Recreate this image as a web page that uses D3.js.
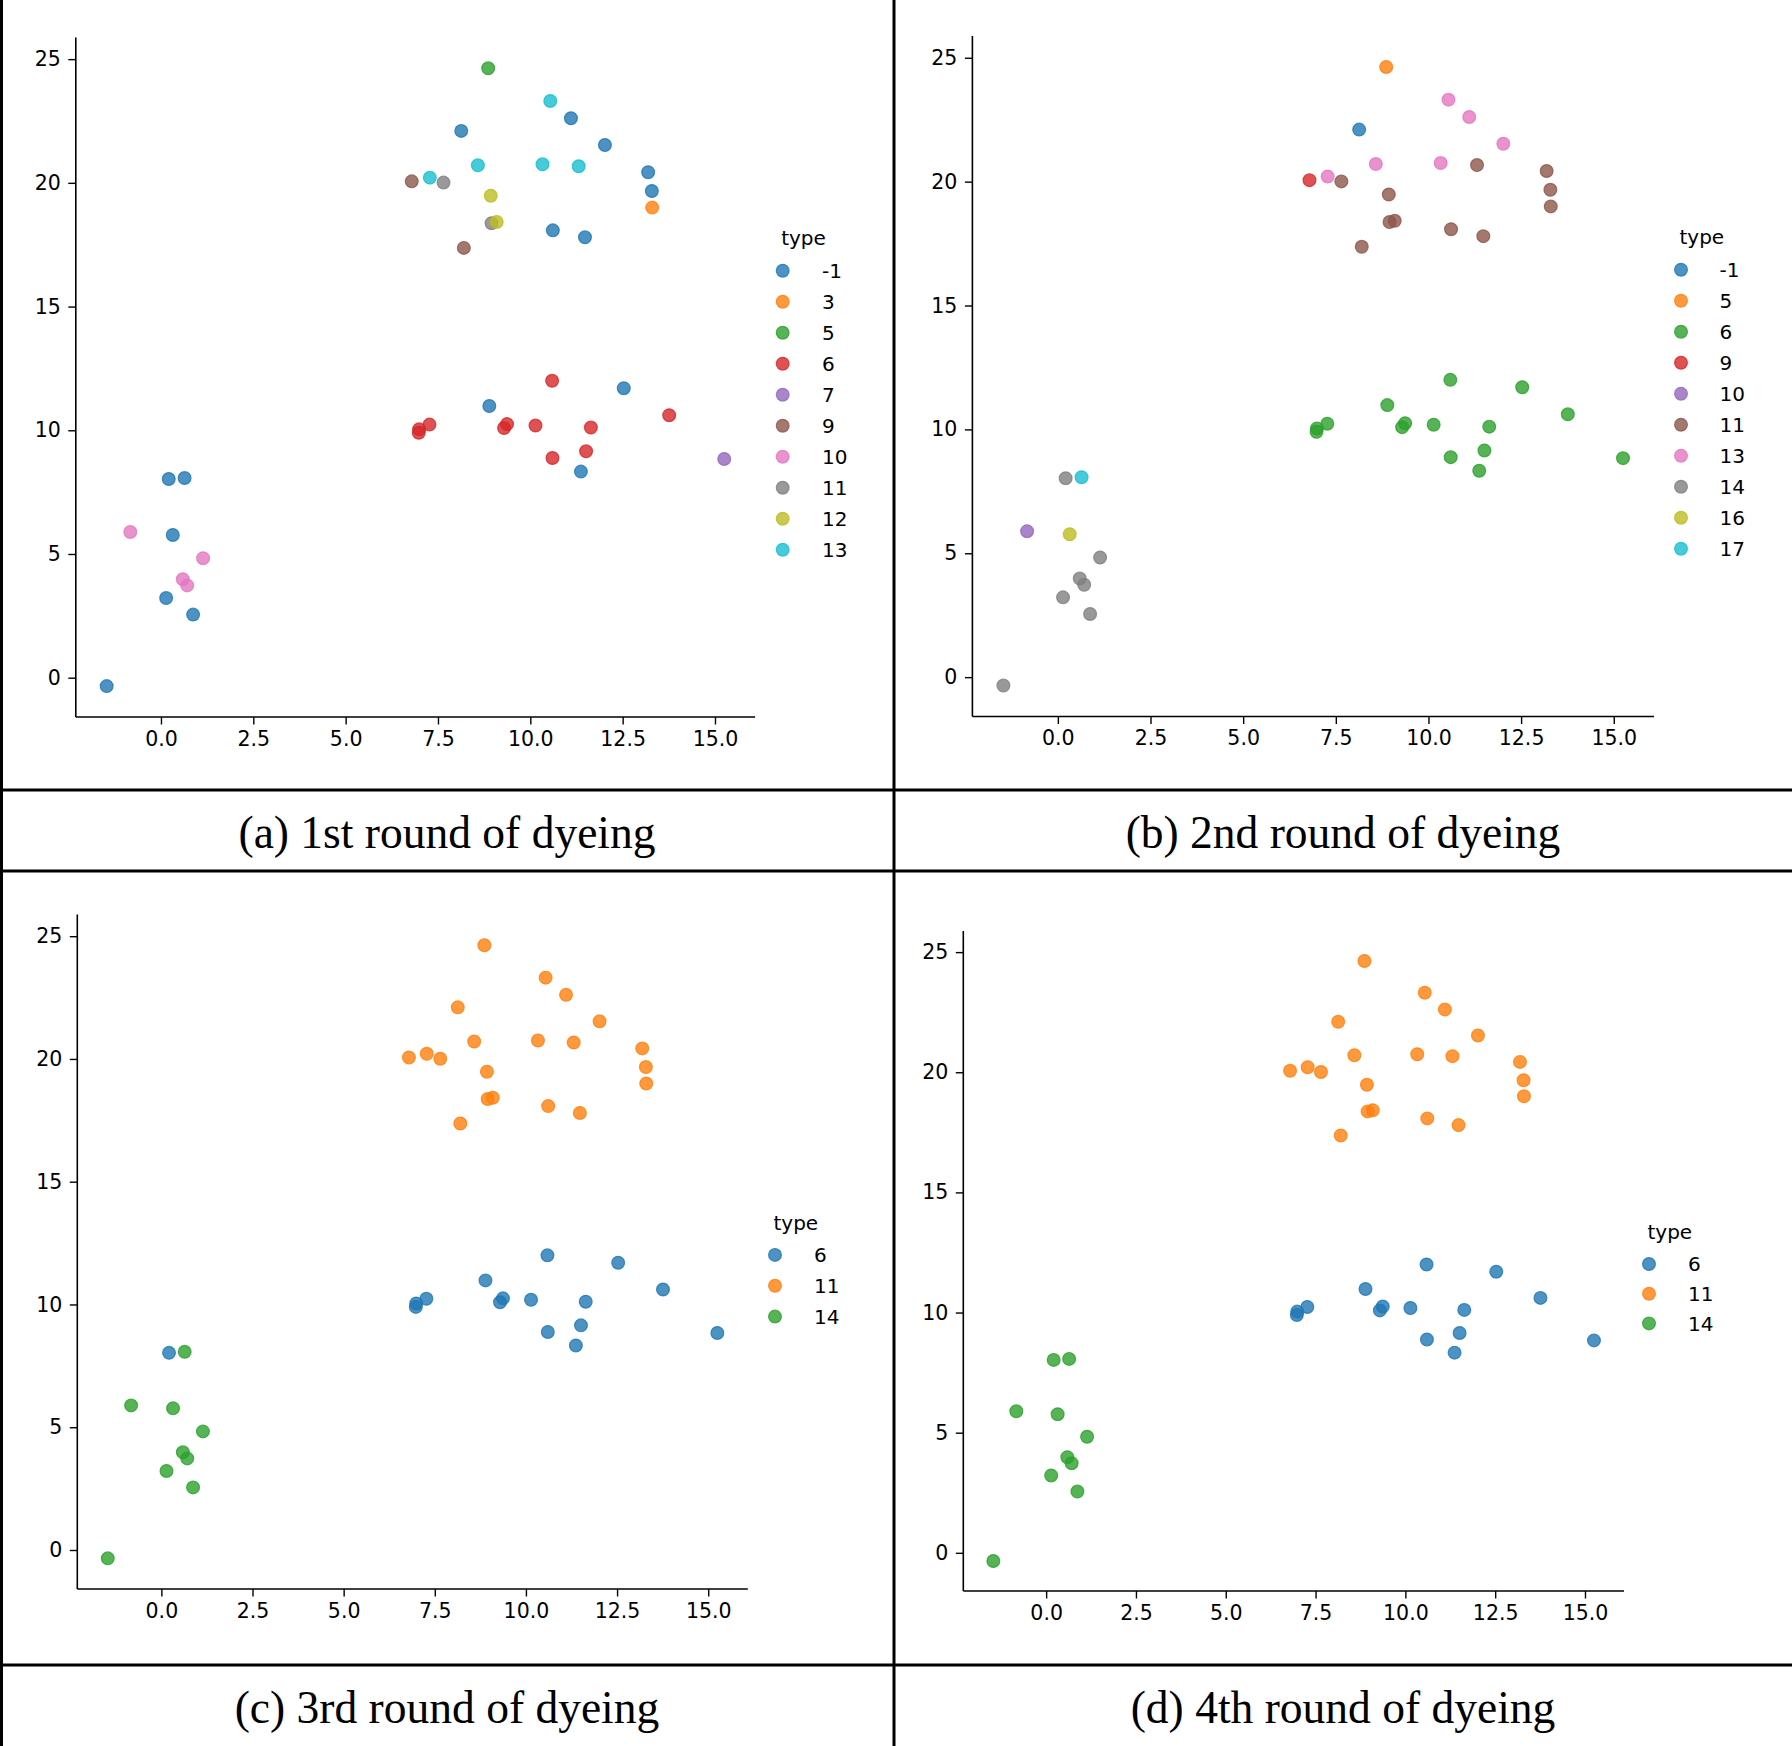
<!DOCTYPE html>
<html>
<head>
<meta charset="utf-8">
<script src="https://cdn.jsdelivr.net/npm/d3@7"></script>
<style>
  html, body { margin: 0; padding: 0; background: #fff; }
  svg { display: block; }
</style>
</head>
<body>
<svg id="fig" width="1792" height="1746"></svg>
<script>
// ---------------- data ----------------
const xValues = [
  8.86, 10.54, 11.10, 8.13, 12.02, 8.58, 10.33, 11.31, 13.19, 13.29,
  13.30, 6.79, 7.28, 7.65, 8.93, 8.95, 9.09, 10.61, 11.48, 8.20,
  6.98, 6.99, 7.27, 8.89, 9.29, 9.37, 10.14, 10.59, 10.60, 11.37,
  11.51, 11.64, 12.53, 13.76, 15.25,
  0.21, 0.64, -0.83, 0.32, 1.14, 0.59, 0.71, 0.14, 0.87, -1.47
];
const yValues = [
  24.63, 23.31, 22.61, 22.10, 21.53, 20.71, 20.75, 20.67, 20.43, 19.67,
  19.00, 20.06, 20.21, 20.01, 19.48, 18.37, 18.42, 18.08, 17.80, 17.37,
  9.90, 10.04, 10.23, 10.98, 10.09, 10.25, 10.19, 12.00, 8.88, 8.33,
  9.15, 10.11, 11.70, 10.61, 8.84,
  8.03, 8.07, 5.89, 5.77, 4.83, 3.98, 3.73, 3.22, 2.55, -0.34
];
const typesRound1 = [
  "5", "13", "-1", "-1", "-1", "13", "13", "13", "-1", "-1",
  "3", "9", "13", "11", "12", "11", "12", "-1", "-1", "9",
  "6", "6", "6", "-1", "6", "6", "6", "6", "6", "-1",
  "6", "6", "-1", "6", "7",
  "-1", "-1", "10", "-1", "10", "10", "10", "-1", "-1", "-1"
];
const typesRound2 = [
  "5", "13", "13", "-1", "13", "13", "13", "11", "11", "11",
  "11", "9", "13", "11", "11", "11", "11", "11", "11", "11",
  "6", "6", "6", "6", "6", "6", "6", "6", "6", "6",
  "6", "6", "6", "6", "6",
  "14", "17", "10", "16", "14", "14", "14", "14", "14", "14"
];
const typesRound3 = [
  "11", "11", "11", "11", "11", "11", "11", "11", "11", "11",
  "11", "11", "11", "11", "11", "11", "11", "11", "11", "11",
  "6", "6", "6", "6", "6", "6", "6", "6", "6", "6",
  "6", "6", "6", "6", "6",
  "6", "14", "14", "14", "14", "14", "14", "14", "14", "14"
];
const typesRound4 = [
  "11", "11", "11", "11", "11", "11", "11", "11", "11", "11",
  "11", "11", "11", "11", "11", "11", "11", "11", "11", "11",
  "6", "6", "6", "6", "6", "6", "6", "6", "6", "6",
  "6", "6", "6", "6", "6",
  "14", "14", "14", "14", "14", "14", "14", "14", "14", "14"
];
const legendRound1 = ["-1", "3", "5", "6", "7", "9", "10", "11", "12", "13"];
const legendRound2 = ["-1", "5", "6", "9", "10", "11", "13", "14", "16", "17"];
const legendRound3 = ["6", "11", "14"];
const legendRound4 = ["6", "11", "14"];
const xTickValues = [0, 2.5, 5, 7.5, 10, 12.5, 15];
const yTickValues = [0, 5, 10, 15, 20, 25];
const captions = [
  "(a) 1st round of dyeing",
  "(b) 2nd round of dyeing",
  "(c) 3rd round of dyeing",
  "(d) 4th round of dyeing"
];
const palette = d3.schemeCategory10;

// ---------------- layout ----------------
const panels = [
  { types: typesRound1, legend: legendRound1, left: 75.8, right: 755.1, top: 37.4, bottom: 717,
    legX: 782.7, legTitleY: 245, legY0: 270.7, legStep: 31.0, legLabelX: 822 },
  { types: typesRound2, legend: legendRound2, left: 972.4, right: 1654, top: 36, bottom: 716.5,
    legX: 1681, legTitleY: 244, legY0: 269.7, legStep: 31.0, legLabelX: 1719.5 },
  { types: typesRound3, legend: legendRound3, left: 77.3, right: 747.8, top: 914.6, bottom: 1589,
    legX: 775, legTitleY: 1230, legY0: 1254.9, legStep: 30.85, legLabelX: 814 },
  { types: typesRound4, legend: legendRound4, left: 963.3, right: 1624, top: 931, bottom: 1591,
    legX: 1649, legTitleY: 1239, legY0: 1264, legStep: 29.7, legLabelX: 1688 }
];

const svg = d3.select("#fig");
const data = xValues.map((x, i) => ({ x, y: yValues[i], i }));

function padded(ext) {
  const r = ext[1] - ext[0];
  return [ext[0] - 0.05 * r, ext[1] + 0.05 * r];
}
const xDomain = padded(d3.extent(xValues));
const yDomain = padded(d3.extent(yValues));

const tickFont = "'DejaVu Sans', sans-serif";

panels.forEach((p, pi) => {
  const g = svg.append("g");
  const x = d3.scaleLinear().domain(xDomain).range([p.left, p.right]);
  const y = d3.scaleLinear().domain(yDomain).range([p.bottom, p.top]);
  const color = d3.scaleOrdinal().domain(p.legend).range(palette);

  // axes
  const xAxis = d3.axisBottom(x).tickValues(xTickValues).tickFormat(d3.format(".1f"))
    .tickSizeOuter(0).tickSizeInner(7.5).tickPadding(6.5);
  const yAxis = d3.axisLeft(y).tickValues(yTickValues).tickFormat(d3.format("d"))
    .tickSizeOuter(0).tickSizeInner(7.5).tickPadding(7.5);

  const gx = g.append("g").attr("transform", `translate(0,${p.bottom})`).call(xAxis);
  const gy = g.append("g").attr("transform", `translate(${p.left},0)`).call(yAxis);
  [gx, gy].forEach(a => {
    a.select(".domain").attr("stroke", "#000").attr("stroke-width", 1.6);
    a.selectAll(".tick line").attr("stroke", "#000").attr("stroke-width", 1.4);
    a.selectAll(".tick text").attr("fill", "#000")
      .style("font-family", tickFont).style("font-size", "20.5px");
  });
  gy.select(".domain").attr("d", `M0,${p.bottom}V${p.top}`);
  gx.select(".domain").attr("d", `M${p.left},0H${p.right}`);

  // points
  g.append("g").selectAll("circle").data(data).join("circle")
    .attr("cx", d => x(d.x))
    .attr("cy", d => y(d.y))
    .attr("r", 6.4)
    .attr("fill", d => color(p.types[d.i]))
    .attr("stroke", d => color(p.types[d.i]))
    .attr("stroke-width", 1.2)
    .attr("fill-opacity", 0.8)
    .attr("stroke-opacity", 0.8);

  // legend
  const lg = g.append("g");
  lg.append("text").attr("x", p.legX - 1.5).attr("y", p.legTitleY)
    .style("font-family", tickFont).style("font-size", "20px").text("type");
  const items = lg.selectAll("g.item").data(p.legend).join("g")
    .attr("transform", (d, k) => `translate(0,${p.legY0 + k * p.legStep})`);
  items.append("circle").attr("cx", p.legX).attr("cy", 0).attr("r", 6.4)
    .attr("fill", d => color(d)).attr("stroke", d => color(d))
    .attr("stroke-width", 1.2).attr("fill-opacity", 0.8).attr("stroke-opacity", 0.8);
  items.append("text").attr("x", p.legLabelX).attr("y", 7.3)
    .style("font-family", tickFont).style("font-size", "20px").text(d => d);
});

// frame lines
const frame = svg.append("g").attr("stroke", "#000").attr("stroke-width", 3);
frame.append("line").attr("x1", 1.5).attr("x2", 1.5).attr("y1", 0).attr("y2", 1746);
frame.append("line").attr("x1", 894).attr("x2", 894).attr("y1", 0).attr("y2", 1746);
[790, 871, 1665].forEach(yy => {
  frame.append("line").attr("x1", 0).attr("x2", 1792).attr("y1", yy).attr("y2", yy);
});

// captions
const capPos = [[447, 847.5], [1343, 847.5], [447, 1723], [1343, 1723]];
svg.append("g").selectAll("text").data(captions).join("text")
  .attr("x", (d, i) => capPos[i][0]).attr("y", (d, i) => capPos[i][1])
  .attr("text-anchor", "middle")
  .style("font-family", "'Liberation Serif', 'Times New Roman', serif")
  .style("font-size", "45.5px")
  .text(d => d);
</script>
</body>
</html>
